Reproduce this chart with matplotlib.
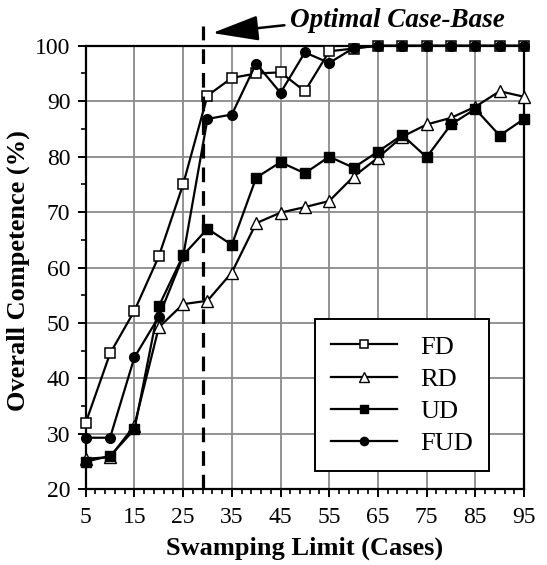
import matplotlib
matplotlib.use("Agg")
import matplotlib.pyplot as plt

plt.rcParams['font.family'] = ['Liberation Serif', 'DejaVu Serif']

x = [5, 10, 15, 20, 25, 30, 35, 40, 45, 50, 55, 60, 65, 70, 75, 80, 85, 90, 95]
FD = [32, 44.5, 52.2, 62, 75, 91, 94.2, 95, 95.2, 91.8, 99, 99.5, 100, 100, 100, 100, 100, 100, 100]
RD = [25.5, 25.8, 31.5, 49.2, 53.4, 54, 59.1, 68, 69.9, 70.9, 72, 76.4, 79.8, 83.6, 85.8, 87, 89, 91.8, 90.8]
UD = [25, 26, 30.8, 53, 62.2, 67, 64.1, 76.2, 79, 77, 80, 78, 80.9, 83.9, 79.9, 85.8, 88.6, 83.8, 86.8]
FUD = [29.3, 29.3, 43.8, 51.1, 62, 86.8, 87.6, 96.8, 91.5, 98.8, 96.9, 99.6, 100, 100, 100, 100, 100, 100, 100]

x_ticks = [5, 15, 25, 35, 45, 55, 65, 75, 85, 95]
y_ticks = [20, 30, 40, 50, 60, 70, 80, 90, 100]
optimal_x = 29
annotation = "Optimal Case-Base"

fig = plt.figure(figsize=(5.47, 5.65), dpi=100)
ax = fig.add_axes([0.1567, 0.134, 0.958 - 0.1567, 0.919 - 0.134])

ax.set_xlim(5, 95)
ax.set_ylim(20, 100)
ax.set_xticks(x_ticks)
ax.set_xticks([v for v in range(5, 96) if (v - 5) % 10 != 0 and (v - 5) % 2 == 0], minor=True)
ax.set_yticks(y_ticks)
ax.set_yticks([v for v in range(25, 100, 10)], minor=True)
ax.grid(True, which='major', color='#8a8a8a', linewidth=1.3)
ax.set_axisbelow(True)

for s in ax.spines.values():
    s.set_linewidth(1.6)
    s.set_color('black')

ax.tick_params(axis='both', which='major', direction='out', length=6, width=1.4,
               labelsize=17, pad=5)
ax.tick_params(axis='both', which='minor', direction='out', length=3.5, width=1.2)
ax.tick_params(axis='x', which='major', pad=7)

lw = 1.6
ax.plot(x, FD, '-', color='black', lw=lw, marker='s', ms=7.5, mfc='white', mec='black', mew=1.1, label='FD', clip_on=False, zorder=3)
ax.plot(x, RD, '-', color='black', lw=lw, marker='^', ms=8.5, mfc='white', mec='black', mew=1.0, label='RD', clip_on=False, zorder=3)
ax.plot(x, UD, '-', color='black', lw=lw, marker='s', ms=7, mfc='black', mec='black', label='UD', clip_on=False, zorder=3)
ax.plot(x, FUD, '-', color='black', lw=lw, marker='o', ms=7, mfc='black', mec='black', label='FUD', clip_on=False, zorder=3)

ax.plot([optimal_x, optimal_x], [20, 103.5], color='black', lw=2.3,
        dashes=(4.6, 2.8), clip_on=False, zorder=4)

ax.annotate('', xy=(31.0, 102.3), xytext=(45.8, 103.7), annotation_clip=False,
            arrowprops=dict(arrowstyle='-|>,head_length=2.4,head_width=0.65',
                            mutation_scale=12, color='black', lw=1.8,
                            shrinkA=0, shrinkB=0))
ax.text(69.0, 104.6, annotation, ha='center', va='center', fontsize=19.5,
        fontweight='bold', fontstyle='italic', clip_on=False)

ax.set_xlabel('Swamping Limit (Cases)', fontsize=19, fontweight='bold')
ax.set_ylabel('Overall Competence (%)', fontsize=19, fontweight='bold')
ax.xaxis.set_label_coords(0.5, -0.132)
ax.xaxis.label.set_va('center')
ax.yaxis.set_label_coords(-0.154, 0.494)
ax.yaxis.label.set_va('center')

h, l = ax.get_legend_handles_labels()
leg = ax.legend(h, l, loc='lower left', bbox_to_anchor=(0.523, 0.041),
                fontsize=19, frameon=True, fancybox=False, edgecolor='black',
                handlelength=2.5, handletextpad=0.9, labelspacing=0.33,
                borderpad=0.6, borderaxespad=0, markerscale=0.85)
leg.get_frame().set_linewidth(1.4)
leg.get_frame().set_alpha(1)

fig.savefig('out.png', dpi=100)
